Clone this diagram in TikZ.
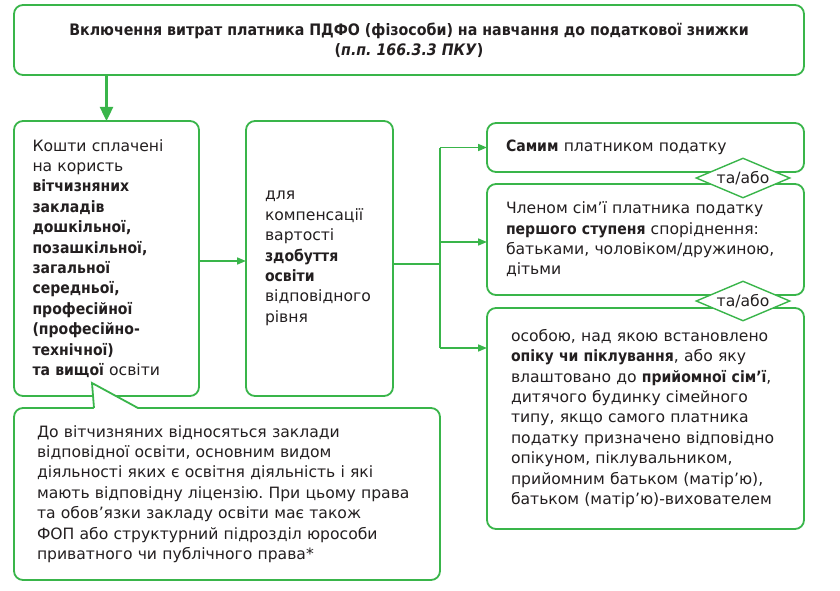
\documentclass[tikz,border=0pt]{standalone}
\usepackage{fontspec}
\setmainfont{DejaVu Sans}[BoldFont={DejaVu Sans Condensed Bold},BoldItalicFont={DejaVu Sans Condensed Bold Oblique}]
\usetikzlibrary{arrows.meta,shapes.geometric,calc}
\definecolor{grn}{RGB}{57,181,74}
\definecolor{ink}{RGB}{35,31,32}
\frenchspacing
\begin{document}
\begin{tikzpicture}[x=1pt,y=-1pt,
  box/.style={draw=grn,line width=1.8pt,rounded corners=9pt,fill=white,
    text=ink,align=left,inner ysep=0pt,outer sep=0pt,
    font=\fontsize{15.6}{20.4}\selectfont},
  conn/.style={draw=grn,line width=1.6pt},
  arr/.style={conn,-{Triangle[length=9pt,width=7pt]}},
  bigarr/.style={conn,line width=2.4pt,-{Triangle[length=14pt,width=13pt]}},
  orbox/.style={diamond,draw=grn,line width=1.4pt,fill=white,text=ink,
    aspect=2.35,inner sep=0pt,minimum width=94pt,minimum height=40pt,
    font=\fontsize{15.6}{18}\selectfont}]
\useasboundingbox (0,0) rectangle (840,591);
% title
\node[box,align=center,minimum width=790pt,minimum height=70pt,
  font=\fontsize{15.8}{20}\selectfont] (T) at (409,40)
  {\textbf{Включення витрат платника ПДФО (фізособи) на навчання до податкової знижки}\\
   \textbf{(\textit{п.п. 166.3.3 ПКУ})}};
% left box
\node[box,text width=148pt,inner xsep=18.5pt,minimum height=275pt] (L) at (106.5,258.5)
  {Кошти сплачені\\на користь\\\textbf{вітчизняних}\\\textbf{закладів}\\\textbf{дошкільної,}\\
   \textbf{позашкільної,}\\\textbf{загальної}\\\textbf{середньої,}\\\textbf{професійної}\\
   \textbf{(професійно-}\\\textbf{технічної)}\\\textbf{та вищої} освіти};
% middle box
\node[box,text width=109pt,inner xsep=19pt,minimum height=275pt] (M) at (319.5,258.5)
  {для\\компенсації\\вартості\\\textbf{здобуття}\\\textbf{освіти}\\відповідного\\рівня};
% right boxes
\node[box,text width=279pt,inner xsep=19pt,minimum height=49pt] (R1) at (645.5,147.5)
  {\textbf{Самим} платником податку};
\node[box,text width=279pt,inner xsep=19pt,minimum height=111pt] (R2) at (645.5,239.5)
  {Членом сім’ї платника податку\\\textbf{першого ступеня} споріднення:\\
   батьками, чоловіком/дружиною,\\дітьми};
\node[box,text width=269pt,inner xsep=24pt,minimum height=221pt] (R3) at (645.5,418.5)
  {особою, над якою встановлено\\\textbf{опіку чи піклування}, або яку\\
   \mbox{влаштовано до \textbf{прийомної сім’ї},}\\дитячого будинку сімейного\\
   типу, якщо самого платника\\податку призначено відповідно\\
   опікуном, піклувальником,\\прийомним батьком (матір’ю),\\
   батьком (матір’ю)-вихователем};
% bottom callout box
\node[box,text width=380pt,inner xsep=23pt,minimum height=172pt] (B) at (227,494)
  {До вітчизняних відносяться заклади\\відповідної освіти, основним видом\\
   діяльності яких є освітня діяльність і які\\мають відповідну ліцензію. При цьому права\\
   та обов’язки закладу освіти має також\\ФОП або структурний підрозділ юрособи\\
   приватного чи публічного права*};
% callout pointer
\coordinate (tip) at (92,383);
\fill[white] ($(B.north west)+(80,1)$) -- (tip) -- ($(B.north west)+(124,1)$) -- cycle;
\draw[conn,line width=1.8pt,line join=miter] ($(B.north west)+(80,0)$) -- (tip) -- ($(B.north west)+(124,0)$);
% connectors
\draw[bigarr] (T.south -| L.north) -- (L.north);
\draw[arr] ($(L.east)+(0,2.5)$) -- ($(M.west)+(0,2.5)$);
\coordinate (bus) at (440,264);
\coordinate (a3) at (440,348);
\draw[conn] ($(M.east)+(0,5.5)$) -- (bus);
\draw[conn] (bus |- R1.west) -- (a3);
\draw[arr] (bus |- R1.west) -- (R1.west);
\draw[arr] ($(bus |- R2.west)+(0,2.5)$) -- ($(R2.west)+(0,2.5)$);
\draw[arr] (a3) -- (a3 -| R3.west);
% and/or diamonds
\node[orbox] (D1) at (743,178) {та/або};
\node[orbox] (D2) at (743,301) {та/або};
\end{tikzpicture}
\end{document}
